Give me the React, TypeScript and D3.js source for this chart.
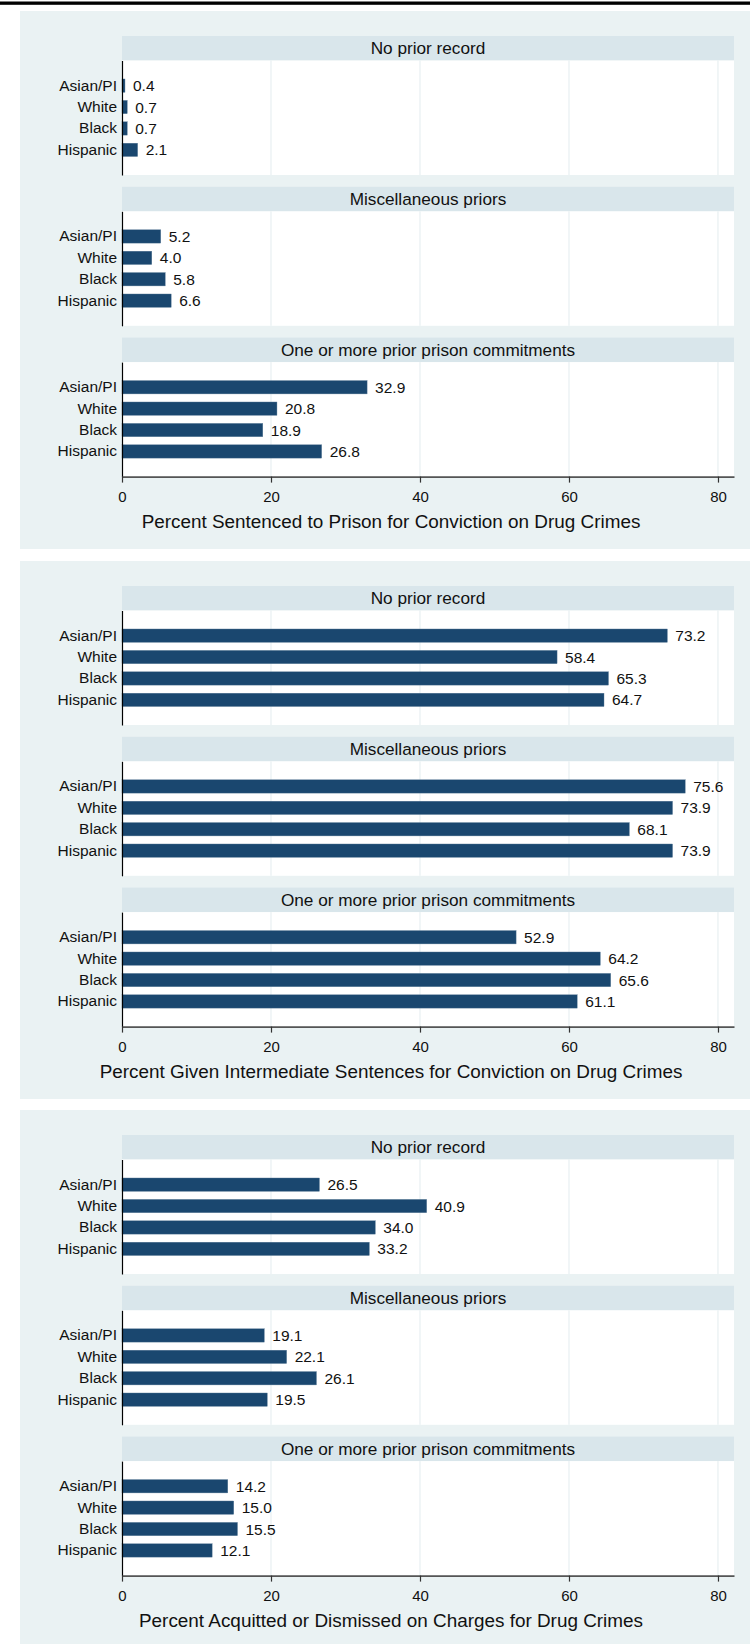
import { useEffect, useRef } from "react";
import * as d3 from "d3";

// groups and panels
const groups = ["Asian/PI", "White", "Black", "Hispanic"];
const panels = [
  "No prior record",
  "Miscellaneous priors",
  "One or more prior prison commitments",
];
const xTicks = [0, 20, 40, 60, 80];

// chart titles
const titles = [
  "Percent Sentenced to Prison for Conviction on Drug Crimes",
  "Percent Given Intermediate Sentences for Conviction on Drug Crimes",
  "Percent Acquitted or Dismissed on Charges for Drug Crimes",
];

// values per panel, in order of groups
const prisonValues = [
  [0.4, 0.7, 0.7, 2.1],
  [5.2, 4.0, 5.8, 6.6],
  [32.9, 20.8, 18.9, 26.8],
];
const intermediateValues = [
  [73.2, 58.4, 65.3, 64.7],
  [75.6, 73.9, 68.1, 73.9],
  [52.9, 64.2, 65.6, 61.1],
];
const acquittedValues = [
  [26.5, 40.9, 34.0, 33.2],
  [19.1, 22.1, 26.1, 19.5],
  [14.2, 15.0, 15.5, 12.1],
];

const charts = [prisonValues, intermediateValues, acquittedValues];

const W = 750;
const H = 1644;
const FONT = "'Liberation Sans', Arial, Helvetica, sans-serif";

const App = () => {
  const svgRef = useRef<SVGSVGElement | null>(null);

  useEffect(() => {
    if (!svgRef.current) return;
    const svg = d3.select(svgRef.current);
    svg.selectAll("*").remove();

    svg.append("rect").attr("width", W).attr("height", H).attr("fill", "#fff");
    // top rule
    svg.append("rect").attr("x", 0).attr("y", 1.5).attr("width", W).attr("height", 3.3).attr("fill", "#000");

    const blockTops = [11, 561, 1110];
    const blockH = 538;
    const plotLeft = 122;
    const plotRight = 734;
    const headerH = 24.5;
    const plotH = 114.5;
    const panelStep = 150.8;

    const x = d3.scaleLinear().domain([0, 82.15]).range([plotLeft, plotRight]);

    charts.forEach((chart, ci) => {
      const T = blockTops[ci];
      const g = svg.append("g");

      // block background
      g.append("rect")
        .attr("x", 20)
        .attr("y", T)
        .attr("width", 742)
        .attr("height", blockH)
        .attr("fill", "#eaf2f3");

      chart.forEach((values, pi) => {
        const hTop = T + 25 + pi * panelStep;
        const pTop = hTop + headerH;

        // strip header
        g.append("rect")
          .attr("x", plotLeft)
          .attr("y", hTop)
          .attr("width", plotRight - plotLeft)
          .attr("height", headerH)
          .attr("fill", "#d9e6eb");
        g.append("text")
          .attr("x", (plotLeft + plotRight) / 2)
          .attr("y", hTop + headerH / 2)
          .attr("dy", "0.36em")
          .attr("text-anchor", "middle")
          .attr("font-family", FONT)
          .attr("font-size", 17.2)
          .attr("fill", "#111")
          .text(panels[pi]);

        // plot region
        g.append("rect")
          .attr("x", plotLeft)
          .attr("y", pTop)
          .attr("width", plotRight - plotLeft)
          .attr("height", plotH)
          .attr("fill", "#fff");

        // gridlines
        g.selectAll(null)
          .data(xTicks.filter((t) => t > 0))
          .enter()
          .append("line")
          .attr("x1", (d) => x(d))
          .attr("x2", (d) => x(d))
          .attr("y1", pTop)
          .attr("y2", pTop + plotH)
          .attr("stroke", "#e3ecef")
          .attr("stroke-width", 1);

        const y = d3
          .scaleBand<string>()
          .domain(groups)
          .range([pTop, pTop + plotH])
          .paddingInner(0.378)
          .paddingOuter(0.864);

        const data = groups.map((k, i) => ({ k, v: values[i] }));

        // bars
        g.selectAll(null)
          .data(data)
          .enter()
          .append("rect")
          .attr("x", x(0))
          .attr("y", (d) => y(d.k) || 0)
          .attr("width", (d) => x(d.v) - x(0))
          .attr("height", y.bandwidth())
          .attr("fill", "#1a476f")
          .attr("stroke", "#5a7a97")
          .attr("stroke-width", 0.4);

        // value labels
        g.selectAll(null)
          .data(data)
          .enter()
          .append("text")
          .attr("x", (d) => x(d.v) + 8)
          .attr("y", (d) => (y(d.k) || 0) + y.bandwidth() / 2)
          .attr("dy", "0.36em")
          .attr("font-family", FONT)
          .attr("font-size", 15.5)
          .attr("fill", "#111")
          .text((d) => d.v.toFixed(1));

        // y axis
        const yAxis = g
          .append("g")
          .attr("transform", `translate(${plotLeft}, 0)`)
          .call(d3.axisLeft(y).tickSize(0).tickPadding(5));
        yAxis.select(".domain").attr("stroke", "#000").attr("stroke-width", 1.2);
        yAxis
          .selectAll("text")
          .attr("font-family", FONT)
          .attr("font-size", 15.5)
          .attr("fill", "#111");

        // x axis on the last panel
        if (pi === chart.length - 1) {
          const axisY = pTop + plotH;
          const xAxis = g
            .append("g")
            .attr("transform", `translate(0, ${axisY})`)
            .call(
              d3
                .axisBottom(x)
                .tickValues(xTicks)
                .tickSize(6)
                .tickSizeOuter(0)
                .tickPadding(8.5)
            );
          xAxis.select(".domain").attr("stroke", "#555").attr("stroke-width", 1.8);
          xAxis.selectAll(".tick line").attr("stroke", "#333").attr("stroke-width", 1.2);
          xAxis
            .selectAll("text")
            .attr("font-family", FONT)
            .attr("font-size", 15)
            .attr("fill", "#111");

          // title
          g.append("text")
            .attr("x", 391)
            .attr("y", axisY + 44.7)
            .attr("dy", "0.36em")
            .attr("text-anchor", "middle")
            .attr("font-family", FONT)
            .attr("font-size", 18.9)
            .attr("fill", "#111")
            .text(titles[ci]);
        }
      });
    });
  }, []);

  return (
    <div style={{ position: "absolute", top: 0, left: 0, width: W, height: H }}>
      <svg ref={svgRef} width={W} height={H} style={{ display: "block" }}></svg>
    </div>
  );
};

export default App;
